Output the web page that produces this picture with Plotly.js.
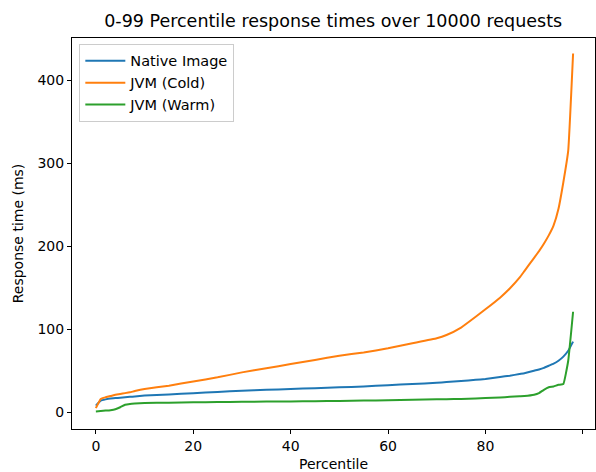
<!DOCTYPE html>
<html>
<head>
<meta charset="utf-8">
<script src="https://cdn.plot.ly/plotly-3.0.1.min.js"></script>
<style>html,body{margin:0;padding:0;background:#fff;}#chart{width:596px;height:472px;}</style>
</head>
<body>
<div id="chart"></div>
<script>
const percentiles = [0,1,2,3,4,5,6,7,8,10,15,20,25,30,35,40,45,50,55,60,65,70,72,75,78,80,83,85,87,88,90,91,92,93,94,95,96,97,98];
const nativeImage = [8,14,15.5,16.5,17,17.5,18,18.5,19,20,21.5,23,24.5,26,27,28,29,30,31,32.5,34,35.5,36.3,37.5,39,40,42.5,44,46,47,50,51.5,53.5,56,58.5,62,67,74,85];
const jvmCold = [5,16,18,19.5,21,22,23,24,25.5,28,32,37,42,48,53,58,63,68,72,77,83,89,93,102,115,124,138,149,162,170,186,194,203,213,225,245,277,315,432];
const jvmWarm = [1,1.5,2,2.5,3.5,6,9,10,10.5,11,11.5,12,12.3,12.5,12.8,13,13.3,13.5,14,14.5,15,15.5,15.7,16,16.6,17,17.8,18.5,19.2,19.5,21,23,27,30,31,33,34,62,121];
const seriesNames = ['Native Image','JVM (Cold)','JVM (Warm)'];
const colors = ['#1f77b4','#ff7f0e','#2ca02c'];
const xTicks = [0,20,40,60,80,100];
const yTicks = [0,100,200,300,400];

const font = 'DejaVu Sans, sans-serif';
const data = [nativeImage, jvmCold, jvmWarm].map((ys, i) => ({
  x: percentiles, y: ys, type: 'scatter', mode: 'lines', name: seriesNames[i],
  line: {color: colors[i], width: 2, shape: 'spline', smoothing: 0.3}
}));

const axisBase = {
  showline: true, linecolor: '#000', linewidth: 1, mirror: true,
  ticks: 'outside', ticklen: 4, tickwidth: 1, tickcolor: '#000',
  showgrid: false, zeroline: false,
  tickfont: {family: font, size: 14, color: '#000'}
};

const layout = {
  width: 596, height: 472,
  margin: {l: 72, r: 1, t: 38, b: 43},
  paper_bgcolor: '#fff', plot_bgcolor: '#fff',
  font: {family: font, color: '#000'},
  title: {text: '0-99 Percentile response times over 10000 requests', font: {family: font, size: 17.5, color: '#000'}, x: 0.559, xanchor: 'center', y: 0.955, yanchor: 'middle'},
  xaxis: Object.assign({}, axisBase, {range: [-4.9, 102.5], tickvals: xTicks, title: {text: 'Percentile', font: {family: font, size: 14, color: '#000'}, standoff: 7}}),
  yaxis: Object.assign({}, axisBase, {range: [-20.2, 450.7], tickvals: yTicks, title: {text: 'Response time (ms)', font: {family: font, size: 14, color: '#000'}, standoff: 10}}),
  showlegend: true,
  legend: {x: 0.014, y: 0.985, xanchor: 'left', yanchor: 'top', bgcolor: 'rgba(255,255,255,0.8)', bordercolor: '#ccc', borderwidth: 1, font: {family: font, size: 14.5, color: '#000'}, tracegroupgap: 0, itemwidth: 40}
};

Plotly.newPlot('chart', data, layout, {displayModeBar: false, staticPlot: true});
</script>
</body>
</html>
